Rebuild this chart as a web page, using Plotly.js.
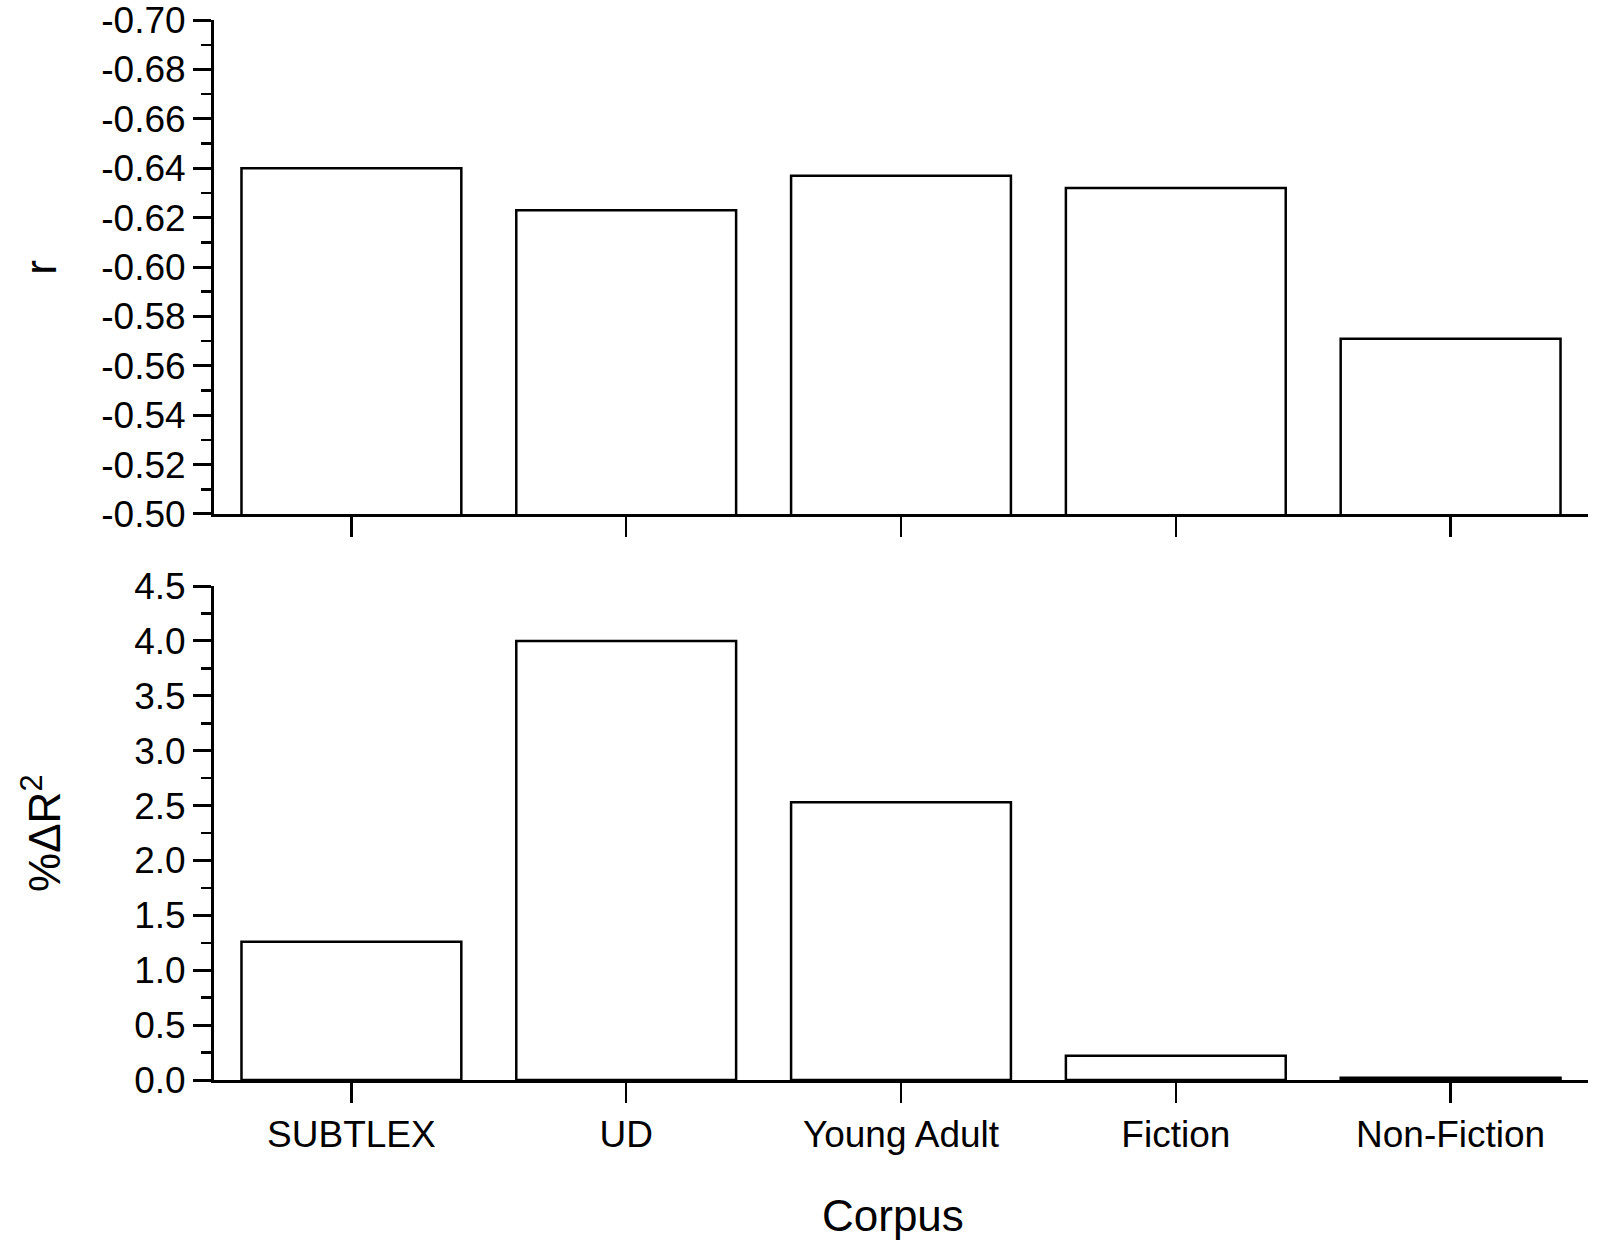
<!DOCTYPE html>
<html>
<head>
<meta charset="utf-8">
<script src="https://cdn.plot.ly/plotly-3.0.1.min.js"></script>
<style>
  html, body { margin: 0; padding: 0; background: #fff; }
  #chart { width: 1600px; height: 1253px; }
</style>
</head>
<body>
<div id="chart"></div>
<script>
// corpora on the x axis
const corpora = ['SUBTLEX', 'UD', 'Young Adult', 'Fiction', 'Non-Fiction'];

// top panel: correlation r
const rValues = [-0.640, -0.623, -0.637, -0.632, -0.571];

// bottom panel: % delta R^2
const dR2Values = [1.26, 4.00, 2.53, 0.22, 0.02];

// tick labels for the r axis (plain hyphen, as in the figure)
const rTickVals = [-0.50, -0.52, -0.54, -0.56, -0.58, -0.60, -0.62, -0.64, -0.66, -0.68, -0.70];
const rTickText = ['-0.50', '-0.52', '-0.54', '-0.56', '-0.58', '-0.60', '-0.62', '-0.64', '-0.66', '-0.68', '-0.70'];

const font = 'Liberation Sans, Arial, sans-serif';

const barStyle = {
  type: 'bar',
  width: 0.8,
  marker: { color: '#ffffff', line: { color: '#000', width: 2.5 } },
  hoverinfo: 'x+y',
  showlegend: false
};

const data = [
  Object.assign({}, barStyle, { x: corpora, y: rValues, xaxis: 'x', yaxis: 'y' }),
  Object.assign({}, barStyle, { x: corpora, y: dR2Values, xaxis: 'x2', yaxis: 'y2' })
];

const xAxisBase = {
  type: 'category',
  range: [-0.5, 4.5],
  showline: true,
  linecolor: '#000',
  linewidth: 3,
  ticks: 'outside',
  ticklen: 20,
  tickwidth: 2.5,
  tickcolor: '#000',
  showgrid: false,
  zeroline: false,
  tickfont: { family: font, size: 37, color: '#000' }
};

const yAxisBase = {
  showline: true,
  linecolor: '#000',
  linewidth: 3,
  ticks: 'outside',
  ticklen: 18,
  tickwidth: 3,
  tickcolor: '#000',
  showgrid: false,
  zeroline: false,
  tickfont: { family: font, size: 37, color: '#000' }
};

const layout = {
  width: 1600,
  height: 1253,
  paper_bgcolor: '#fff',
  plot_bgcolor: '#fff',
  font: { family: font, color: '#000' },
  margin: { l: 214, r: 12, t: 20, b: 173 },
  bargap: 0.2,
  xaxis: Object.assign({}, xAxisBase, {
    domain: [0, 1],
    anchor: 'y',
    showticklabels: false
  }),
  yaxis: Object.assign({}, yAxisBase, {
    domain: [0.534, 1],
    anchor: 'x',
    range: [-0.5, -0.70005],
    tickmode: 'array',
    tickvals: rTickVals,
    ticktext: rTickText,
    minor: { ticks: 'outside', ticklen: 10, tickwidth: 2.5, tickcolor: '#000', dtick: 0.01, tick0: 0 }
  }),
  xaxis2: Object.assign({}, xAxisBase, {
    domain: [0, 1],
    anchor: 'y2'
  }),
  yaxis2: Object.assign({}, yAxisBase, {
    domain: [0, 0.466],
    anchor: 'x2',
    range: [0, 4.5],
    dtick: 0.5,
    tick0: 0,
    tickformat: '.1f',
    minor: { ticks: 'outside', ticklen: 10, tickwidth: 2.5, tickcolor: '#000', dtick: 0.25, tick0: 0 }
  }),
  annotations: [
    {
      text: 'r', xref: 'paper', yref: 'paper', x: -0.126, y: 0.767,
      xanchor: 'center', yanchor: 'middle', textangle: -90, showarrow: false,
      font: { family: font, size: 44, color: '#000' }
    },
    {
      text: '%ΔR<sup>2</sup>', xref: 'paper', yref: 'paper', x: -0.126, y: 0.233,
      xanchor: 'center', yanchor: 'middle', textangle: -90, showarrow: false,
      font: { family: font, size: 44, color: '#000' }
    },
    {
      text: 'Corpus', xref: 'paper', yref: 'paper', x: 0.494, y: -0.128,
      xanchor: 'center', yanchor: 'middle', showarrow: false,
      font: { family: font, size: 44, color: '#000' }
    }
  ]
};

Plotly.newPlot('chart', data, layout, { displayModeBar: false, staticPlot: true });
</script>
</body>
</html>
